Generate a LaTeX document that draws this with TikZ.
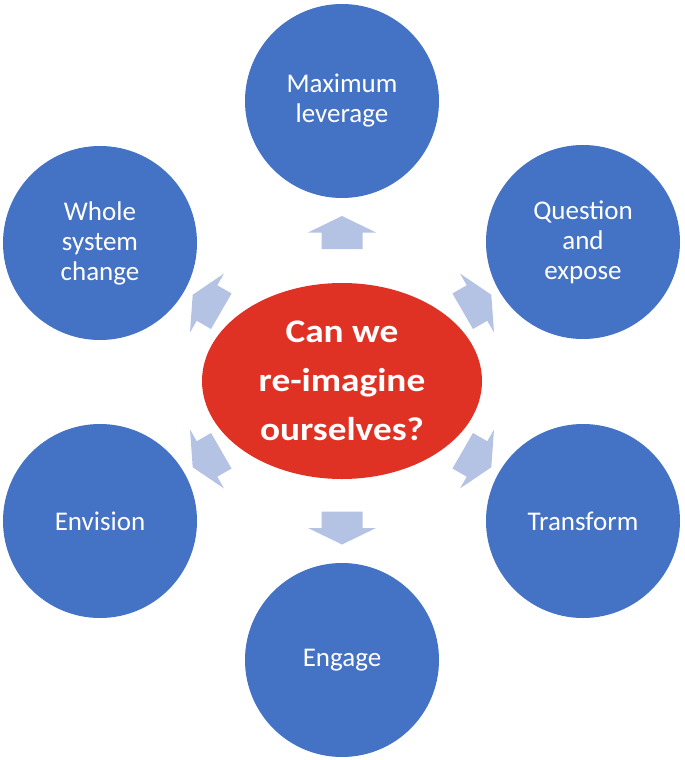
\documentclass[tikz,border=0pt]{standalone}
\usepackage{fontspec}
\usepackage{graphicx}
\setmainfont{Carlito}
\usetikzlibrary{shapes.geometric}
\definecolor{circblue}{RGB}{68,114,196}
\definecolor{ctrred}{RGB}{224,50,36}
\definecolor{arrblue}{RGB}{180,194,228}
\newcommand{\wideline}[1]{\scalebox{1.13}[1]{#1}}
\begin{document}
\begin{tikzpicture}[x=1pt,y=-1pt,
  outer/.style={circle,fill=circblue,minimum size=194pt,inner sep=0pt,text=white,align=center,
    font=\fontsize{27}{30}\selectfont},
  hub/.style={ellipse,fill=ctrred,minimum width=280pt,minimum height=196pt,inner sep=0pt,text=white,align=center,
    font=\fontsize{33}{49}\selectfont\bfseries},
  blockarrow/.style={fill=arrblue}]
\useasboundingbox (0,0) rectangle (685,760);
\node[hub] (c) at (342,381) {\wideline{Can we}\\\wideline{re-imagine}\\\wideline{ourselves?}};
\node[outer] (n1) at (342,101) {Maximum\\leverage};
\node[outer] (n2) at (583,242) {Question\\and\\expose};
\node[outer] (n3) at (583,521) {Transform};
\node[outer] (n4) at (342,660) {Engage};
\node[outer] (n5) at (100,521) {Envision};
\node[outer] (n6) at (100,243) {Whole\\system\\change};
\foreach \px/\py/\rot in {342/232.5/0, 477/303/-60, 477/459/-120, 342/528/180, 207/459/120, 207/303/60}{
  \fill[blockarrow,shift={(\px,\py)},rotate=\rot]
    (0,-16.5) -- (34,0) -- (20.5,0) -- (20.5,16.5) -- (-20.5,16.5) -- (-20.5,0) -- (-34,0) -- cycle;
}
\end{tikzpicture}
\end{document}
